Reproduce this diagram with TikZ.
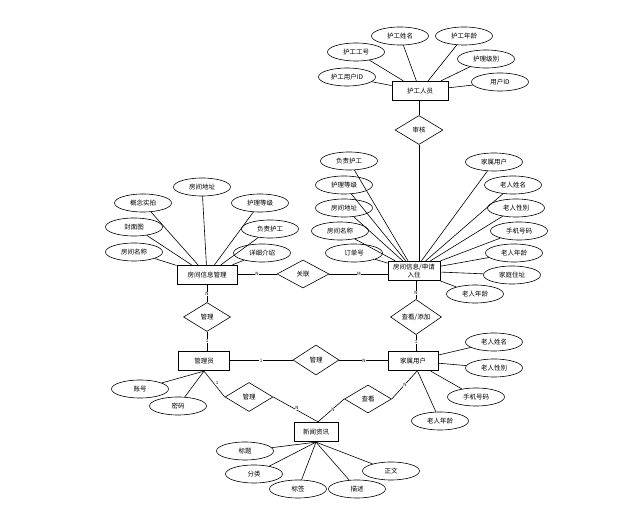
\documentclass[tikz,border=0pt]{standalone}
\usepackage{fontspec}
\setmainfont{Noto Sans CJK SC}
\usetikzlibrary{shapes.geometric}
\begin{document}
\begin{tikzpicture}[x=1pt,y=-1pt,
  ent/.style={draw, line width=0.8pt, rectangle, minimum width=#1, minimum height=19.5pt, inner sep=0pt, align=center, font=\fontsize{6.5}{7.5}\selectfont},
  ent/.default=52pt,
  attr/.style={draw, line width=0.6pt, ellipse, minimum width=57pt, minimum height=18pt, inner sep=0pt, font=\fontsize{6.5}{7.5}\selectfont},
  rel/.style={draw, line width=0.6pt, diamond, minimum width=48pt, minimum height=29pt, inner sep=0pt, font=\fontsize{6.5}{7.5}\selectfont},
  lnk/.style={line width=0.6pt},
  card/.style={font=\fontsize{4.5}{5}\selectfont, inner sep=0.5pt, fill=white}
]
\useasboundingbox (0,0) rectangle (635,526);
\fill[white] (0,0) rectangle (635,526);

% entities
\node[ent=56pt] (hg) at (420,91) {护工人员};
\node[ent=52pt] (fj) at (414,271) {房间信息/申请\\入住};
\node[ent=60pt] (fg) at (207,275) {房间信息管理};
\node[ent=51pt] (gl) at (204,361) {管理员};
\node[ent=50pt] (js) at (413,361) {家属用户};
\node[ent=44pt] (xw) at (316,432) {新闻资讯};

% relationships
\node[rel] (sh) at (419,130) {审核};
\node[rel, minimum width=52pt, minimum height=28pt] (gy) at (303,274) {关联};
\node[rel, minimum width=47pt] (gla) at (207,317) {管理};
\node[rel, minimum width=51pt] (ck1) at (416,317) {查看/添加};
\node[rel, minimum width=46pt, minimum height=30pt] (glb) at (316,360) {管理};
\node[rel] (glc) at (249,397) {管理};
\node[rel, minimum width=47pt, minimum height=28pt] (ck2) at (368,399) {查看};

% relationship links
\draw[lnk] (sh.north) -- (sh.north |- hg.south);
\draw[lnk] (sh.south) -- (sh.south |- fj.north);
\draw[lnk] (gy.west) -- (gy.west -| fg.east);
\draw[lnk] (gy.east) -- (gy.east -| fj.west);
\draw[lnk] (gla.north) -- (gla.north |- fg.south);
\draw[lnk] (gla.south) -- (gla.south |- gl.north);
\draw[lnk] (ck1.north) -- (ck1.north |- fj.south);
\draw[lnk] (ck1.south) -- (ck1.south |- js.north);
\draw[lnk] (glb.west) -- (glb.west -| gl.east);
\draw[lnk] (glb.east) -- (glb.east -| js.west);
\draw[lnk] (gl.south) -- (glc.west);
\draw[lnk] (glc.east) -- ([xshift=2pt]xw.north);
\draw[lnk] ([xshift=4pt]js.south) -- (ck2.east);
\draw[lnk] (ck2.west) -- ([xshift=2pt]xw.north);

% cardinalities
\node[card] (c1) at (257,274) {N};
\node[card] (c2) at (359,274) {M};
\node[card] (c3) at (207,294) {N};
\node[card] (c4) at (207,341) {1};
\node[card] (c5) at (416,293) {N};
\node[card] (c6) at (416,342) {1};
\node[card] (c7) at (261,361) {1};
\node[card] (c8) at (364,361) {N};
\node[card] (c9) at (217,383) {1};
\node[card] (c10) at (297,408) {N};
\node[card] (c11) at (405,385) {N};
\node[card] (c12) at (333,410) {N};

% attributes of 护工人员
\node[attr] (h1) at (400,36) {护工姓名};
\node[attr] (h2) at (464,36) {护工年龄};
\node[attr] (h3) at (356,52) {护工工号};
\node[attr] (h4) at (486,59) {护理级别};
\node[attr] (h5) at (347,77) {护工用户ID};
\node[attr] (h6) at (500,82) {用户ID};
\foreach \a in {h1,h2,h3,h4,h5,h6} \draw[lnk] (\a) -- (hg);

% attributes of 房间信息/申请入住
\node[attr] (f1) at (349,161) {负责护工};
\node[attr] (f2) at (344,185) {护理等级};
\node[attr] (f3) at (344,208) {房间地址};
\node[attr] (f4) at (340,231) {房间名称};
\node[attr] (f5) at (354,253) {订单号};
\node[attr] (f6) at (494,162) {家属用户};
\node[attr] (f7) at (513,185) {老人姓名};
\node[attr] (f8) at (516,208) {老人性别};
\node[attr] (f9) at (519,231) {手机号码};
\node[attr] (f10) at (514,253) {老人年龄};
\node[attr] (f11) at (512,275) {家庭住址};
\node[attr] (f12) at (475,294) {老人年龄};
\foreach \a in {f1,f2,f3,f4,f5,f6,f7,f8,f9,f10,f11,f12} \draw[lnk] (\a) -- (fj);

% attributes of 房间信息管理
\node[attr] (g1) at (202,187) {房间地址};
\node[attr] (g2) at (143,203) {概念实拍};
\node[attr] (g3) at (260,203) {护理等级};
\node[attr] (g4) at (134,227) {封面图};
\node[attr] (g5) at (270,229) {负责护工};
\node[attr] (g6) at (134,252) {房间名称};
\node[attr] (g7) at (262,253) {详细介绍};
\foreach \a in {g1,g2,g3,g4,g5,g6,g7} \draw[lnk] (\a) -- (fg);

% attributes of 管理员
\node[attr] (a1) at (140,389) {账号};
\node[attr] (a2) at (178,406) {密码};
\foreach \a in {a1,a2} \draw[lnk] (\a) -- (gl.south);

% attributes of 家属用户
\node[attr] (j1) at (494,342) {老人姓名};
\node[attr] (j2) at (494,368) {老人性别};
\node[attr] (j3) at (476,397) {手机号码};
\node[attr] (j4) at (440,421) {老人年龄};
\foreach \a in {j1,j2,j3,j4} \draw[lnk] (\a) -- (js);

% attributes of 新闻资讯
\node[attr] (x1) at (245,451) {标题};
\node[attr] (x2) at (254,474) {分类};
\node[attr] (x3) at (298,489) {标签};
\node[attr] (x4) at (357,489) {描述};
\node[attr] (x5) at (391,471) {正文};
\foreach \a in {x1,x2,x3,x4,x5} \draw[lnk] (\a) -- (xw.south);
\end{tikzpicture}
\end{document}
